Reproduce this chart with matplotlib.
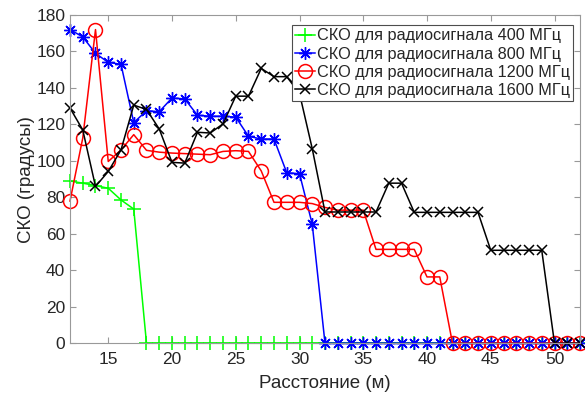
import matplotlib
matplotlib.use("Agg")
import matplotlib.pyplot as plt

plt.rcParams["font.family"] = ["Liberation Sans", "DejaVu Sans"]

# distance, m
distance = list(range(12, 53))

# RMS error (degrees) for each carrier frequency
sko_400 = [89, 87.8, 86.5, 85, 78.6, 73.6] + [0] * 35
sko_800 = [172, 168, 159, 154, 153, 121, 127.5, 127, 134.5, 134,
           125, 124.5, 124.5, 124, 113.5, 112, 112, 93.5, 93, 65.3] + [0] * 21
sko_1200 = [78, 112.5, 172, 99.7, 106, 114.4, 105.8, 104.8, 104.3, 104,
            103.7, 103.4, 105.2, 105.6, 105.2, 94.5, 77.3, 77.3, 77.3, 76.6,
            74.5, 73, 73, 73, 51.5, 51.5, 51.5, 51.5, 36.4, 36.4] + [0] * 11
sko_1600 = [129, 117, 86, 94.2, 106, 130.6, 128.2, 117.5, 99.2, 98.8,
            115.7, 115.3, 120.3, 135.5, 135.5, 150.7, 146.2, 146.2, 137, 106.7,
            72, 72, 72, 72, 72, 87.8, 87.8, 71.8, 71.8, 71.8,
            71.8, 71.8, 71.8, 51, 51, 51, 51, 51, 0, 0, 0]

labels = [
    "СКО для радиосигнала 400 МГц",
    "СКО для радиосигнала 800 МГц",
    "СКО для радиосигнала 1200 МГц",
    "СКО для радиосигнала 1600 МГц",
]

fig = plt.figure(figsize=(5.85, 3.94), dpi=100)
ax = fig.add_axes([70 / 585, 1 - 343.3 / 394, 510 / 585, 328.3 / 394])

ax.plot(distance, sko_400, color="#00ff00", marker="+", ms=10, mew=1.1,
        lw=1.1, label=labels[0], clip_on=False)
ax.plot(distance, sko_800, color="#0000ff", marker=(8, 2, 0), ms=9, mew=1.0,
        lw=1.1, label=labels[1], clip_on=False)
ax.plot(distance, sko_1200, color="#ff0000", marker="o", ms=10, mfc="none",
        mew=1.1, lw=1.1, label=labels[2], clip_on=False)
ax.plot(distance, sko_1600, color="black", marker="x", ms=7, mew=1.1,
        lw=1.1, label=labels[3], clip_on=False)

ax.set_xlim(12, 52)
ax.set_ylim(0, 180)
ax.set_xticks(range(15, 51, 5))
ax.set_yticks(range(0, 181, 20))
ax.tick_params(direction="in", top=True, right=True, labelsize=12.5,
               colors="0.6", labelcolor="#262626", length=4)
ax.tick_params(axis="x", pad=6)
for sp in ax.spines.values():
    sp.set_color("0.6")

ax.set_xlabel("Расстояние (м)", fontsize=13.5, color="#262626", labelpad=6)
ax.set_ylabel("СКО (градусы)", fontsize=13.5, color="#262626", labelpad=1)

leg = ax.legend(loc="upper right", bbox_to_anchor=(573 / 585, 1 - 25 / 394),
                bbox_transform=fig.transFigure, borderaxespad=0,
                fontsize=11.7, handlelength=1.25, handletextpad=0.1,
                labelspacing=0.2, borderpad=0.2, fancybox=False,
                framealpha=1, edgecolor="0.3")
leg.get_frame().set_linewidth(0.8)
for t in leg.get_texts():
    t.set_color("#262626")

fig.savefig("out.png", dpi=100)
